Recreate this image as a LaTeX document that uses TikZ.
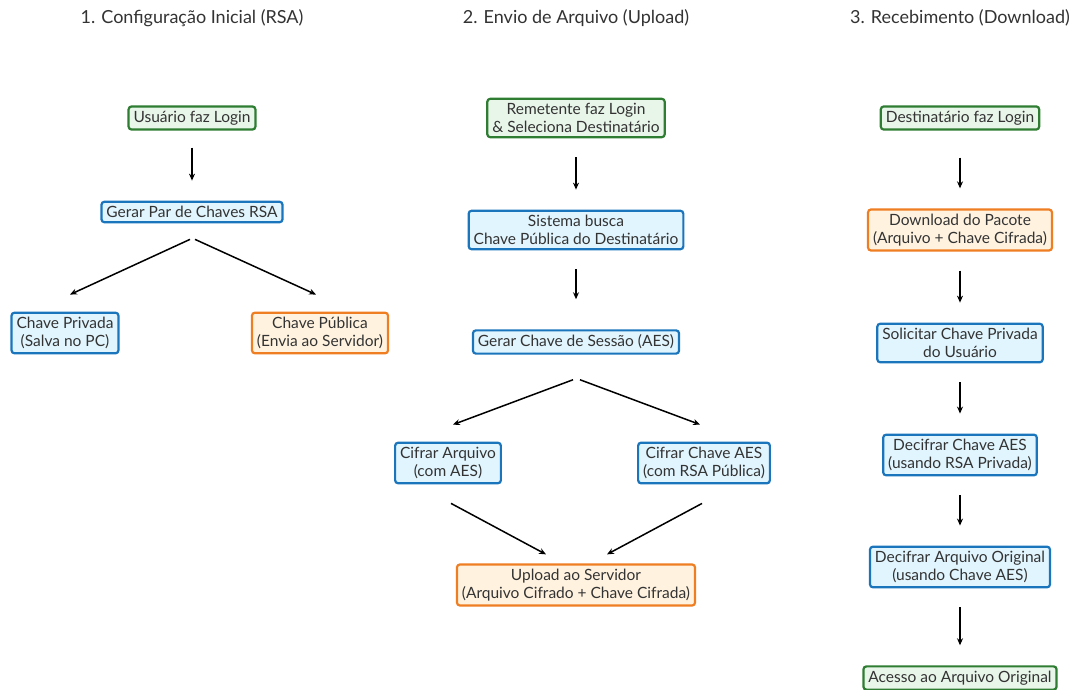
\documentclass[tikz,border=0pt]{standalone}
\usepackage{fontspec}
\setmainfont{Lato}
\usetikzlibrary{arrows.meta}
\definecolor{grnline}{HTML}{2E7D32}
\definecolor{grnfill}{HTML}{E8F5E9}
\definecolor{bluline}{HTML}{1B75BC}
\definecolor{blufill}{HTML}{E1F5FE}
\definecolor{orgline}{HTML}{EF7D22}
\definecolor{orgfill}{HTML}{FFF3E0}
\definecolor{txt}{HTML}{333333}
\begin{document}
\begin{tikzpicture}
[
    x=1pt, y=-1pt,
    box/.style={draw, rounded corners=3pt, line width=2.2pt, align=center,
        text=txt, font=\fontsize{15.5}{18}\selectfont, inner xsep=5pt, inner ysep=4.5pt},
    start/.style={box, draw=grnline, fill=grnfill},
    proc/.style={box, draw=bluline, fill=blufill},
    store/.style={box, draw=orgline, fill=orgfill},
    title/.style={text=txt, font=\fontsize{18}{20}\selectfont},
    flow/.style={-{Stealth[length=7pt,width=6pt]}, line width=1.5pt, shorten <=19pt, shorten >=20pt},
    slant/.style={-{Stealth[length=7pt,width=6pt]}, line width=1.5pt},
]
\fill[white] (0,0) rectangle (1082,690);
\useasboundingbox (0,0) rectangle (1082,690);

% column titles
\node[title] (t1) at (192,18) {1. Configuração Inicial (RSA)};
\node[title] (t2) at (576,18) {2. Envio de Arquivo (Upload)};
\node[title] (t3) at (960,18) {3. Recebimento (Download)};

% 1. configuracao
\node[start] (login1) at (192,118) {Usuário faz Login};
\node[proc] (rsa) at (192,212) {Gerar Par de Chaves RSA};
\node[proc] (priv) at (65,333) {Chave Privada\\(Salva no PC)};
\node[store] (pub) at (320,333) {Chave Pública\\(Envia ao Servidor)};

\draw[flow, shorten <=17pt] (login1) -- (rsa);
\draw[slant] ([shift={(-2,16)}]rsa.south) -- ([shift={(5,-17)}]priv.north);
\draw[slant] ([shift={(3,16)}]rsa.south) -- ([shift={(-4,-17)}]pub.north);

% 2. envio
\node[start] (login2) at (576,118) {Remetente faz Login\\\& Seleciona Destinatário};
\node[proc] (busca) at (576,230) {Sistema busca\\Chave Pública do Destinatário};
\node[proc] (sessao) at (576,342) {Gerar Chave de Sessão (AES)};
\node[proc] (cifarq) at (448,463) {Cifrar Arquivo\\(com AES)};
\node[proc] (cifkey) at (704,463) {Cifrar Chave AES\\(com RSA Pública)};
\node[store] (upload) at (576,585) {Upload ao Servidor\\(Arquivo Cifrado + Chave Cifrada)};

\draw[flow] (login2) -- (busca);
\draw[flow, shorten >=30pt] (busca) -- (sessao);
\draw[slant] ([shift={(-3,25)}]sessao.south) -- ([shift={(5,-17)}]cifarq.north);
\draw[slant] ([shift={(4,25)}]sessao.south) -- ([shift={(-4,-17)}]cifkey.north);
\draw[slant] ([shift={(3,19)}]cifarq.south) -- ([shift={(-30,-9)}]upload.north);
\draw[slant] ([shift={(-2,19)}]cifkey.south) -- ([shift={(31,-9)}]upload.north);

% 3. recebimento
\node[start] (login3) at (960,118) {Destinatário faz Login};
\node[store] (pacote) at (960,230) {Download do Pacote\\(Arquivo + Chave Cifrada)};
\node[proc] (pedir) at (960,343) {Solicitar Chave Privada\\do Usuário};
\node[proc] (deckey) at (960,455) {Decifrar Chave AES\\(usando RSA Privada)};
\node[proc] (decarq) at (960,567) {Decifrar Arquivo Original\\(usando Chave AES)};
\node[start] (acesso) at (960,678) {Acesso ao Arquivo Original};

\draw[flow, shorten <=27pt] (login3) -- (pacote);
\draw[flow] (pacote) -- (pedir);
\draw[flow] (pedir) -- (deckey);
\draw[flow] (deckey) -- (decarq);
\draw[flow] (decarq) -- (acesso);
\end{tikzpicture}
\end{document}
